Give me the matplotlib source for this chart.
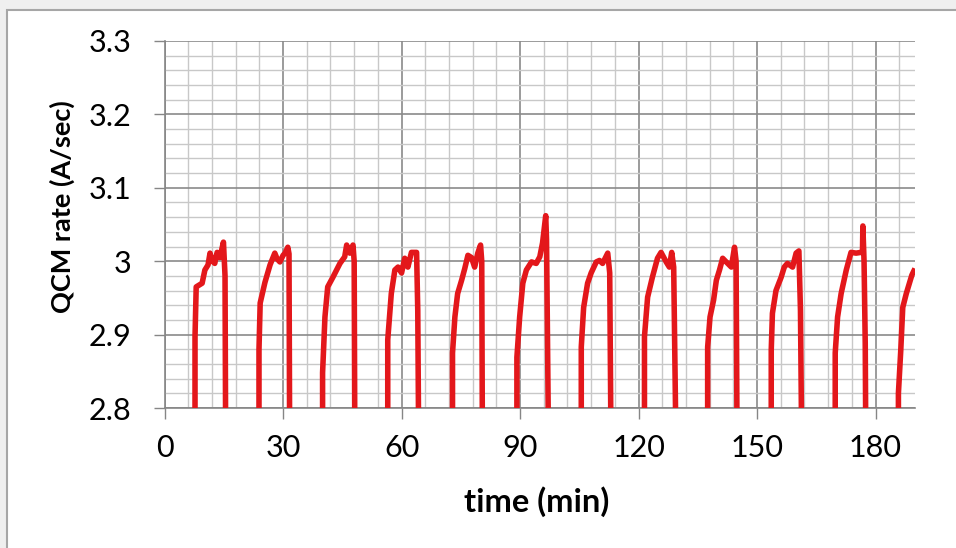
import matplotlib
matplotlib.use('Agg')
import matplotlib.pyplot as plt
from matplotlib.patches import Rectangle
from matplotlib.ticker import MultipleLocator, FixedLocator, FixedFormatter

# ---- data (time in min, QCM rate in A/sec); values below 2.8 are off-scale ----
pulse_times = [
    [7.7, 7.7, 8.0, 9.5, 10.2, 11.0, 11.5, 12.1, 12.7, 13.3, 14.0, 14.9, 15.3, 15.5],
    [23.9, 23.9, 24.2, 25.4, 26.7, 27.9, 28.5, 29.2, 30.0, 30.5, 31.2, 31.5, 31.7],
    [40.0, 40.0, 40.6, 41.3, 42.6, 44.4, 45.6, 46.1, 46.9, 47.7, 48.0, 48.2],
    [56.5, 56.5, 57.4, 58.3, 59.1, 60.0, 60.8, 61.6, 62.5, 63.8, 64.1, 64.4],
    [72.9, 72.9, 73.5, 74.2, 75.2, 76.0, 76.8, 77.7, 78.5, 79.3, 80.0, 80.3, 80.5],
    [89.2, 89.2, 89.9, 90.7, 91.6, 92.9, 94.1, 95.0, 95.7, 96.5, 96.7, 97.0, 97.3],
    [105.5, 105.5, 106.1, 107.1, 108.0, 109.3, 110.1, 110.9, 112.2, 112.7, 113.1],
    [121.5, 121.5, 122.3, 123.5, 124.8, 125.7, 127.0, 127.8, 128.4, 128.9, 129.6],
    [137.5, 137.5, 138.1, 139.0, 139.7, 140.5, 141.3, 142.2, 143.5, 144.3, 144.7, 145.0],
    [153.6, 153.6, 153.9, 154.8, 156.1, 156.9, 157.7, 159.0, 159.9, 160.6, 161.0, 161.4],
    [169.8, 169.8, 170.4, 171.3, 172.6, 173.8, 175.1, 176.3, 176.7, 176.8, 177.1, 177.4, 177.6],
    [185.8, 185.8, 186.4, 186.9, 187.8, 188.6, 189.2, 190.0],
]
pulse_values = [
    [2.70, 2.897, 2.965, 2.970, 2.988, 2.995, 3.011, 3.000, 2.997, 3.012, 3.005, 3.026, 2.980, 2.70],
    [2.70, 2.880, 2.943, 2.971, 2.995, 3.011, 3.003, 2.999, 3.008, 3.011, 3.019, 3.010, 2.70],
    [2.70, 2.848, 2.924, 2.965, 2.978, 2.997, 3.006, 3.022, 3.011, 3.022, 3.000, 2.70],
    [2.70, 2.893, 2.956, 2.988, 2.992, 2.984, 3.004, 2.992, 3.012, 3.012, 2.933, 2.70],
    [2.70, 2.875, 2.924, 2.956, 2.974, 2.990, 3.008, 3.005, 2.992, 3.011, 3.022, 3.000, 2.70],
    [2.70, 2.869, 2.924, 2.970, 2.988, 2.999, 2.997, 3.006, 3.025, 3.062, 3.030, 2.861, 2.70],
    [2.70, 2.883, 2.937, 2.970, 2.984, 2.999, 3.001, 2.997, 3.011, 2.984, 2.70],
    [2.70, 2.897, 2.951, 2.978, 3.004, 3.012, 2.999, 2.992, 3.012, 2.992, 2.70],
    [2.70, 2.883, 2.924, 2.947, 2.974, 2.988, 3.004, 2.999, 2.992, 3.019, 3.000, 2.70],
    [2.70, 2.879, 2.929, 2.960, 2.978, 2.992, 2.997, 2.992, 3.011, 3.014, 2.933, 2.70],
    [2.70, 2.875, 2.924, 2.956, 2.988, 3.012, 3.011, 3.012, 3.012, 3.048, 3.000, 2.888, 2.70],
    [2.70, 2.820, 2.879, 2.937, 2.956, 2.970, 2.981, 2.990],
]
x_ticks = [0, 30, 60, 90, 120, 150, 180]
x_tick_labels = ['0', '30', '60', '90', '120', '150', '180']
y_ticks = [2.8, 2.9, 3.0, 3.1, 3.2, 3.3]
y_tick_labels = ['2.8', '2.9', '3', '3.1', '3.2', '3.3']
x_label = 'time (min)'
y_label = 'QCM rate (A/sec)'

times = [t for p in pulse_times for t in p]
values = [v for p in pulse_values for v in p]

FONT = 'Lato'
plt.rcParams['font.family'] = [FONT, 'DejaVu Sans']

fig = plt.figure(figsize=(9.56, 5.48), dpi=100, facecolor='#efefef')
frame = Rectangle((7/956, -0.01), 1.0, 1 - 10/548 + 0.01, transform=fig.transFigure,
                  facecolor='white', edgecolor='#a6a6a6', lw=1.5, zorder=-10)
fig.add_artist(frame)

ax = fig.add_axes([164.6/956, 1 - 408/548, (915 - 164.6)/956, (408 - 41)/548])
ax.set_zorder(5)
ax.set_facecolor('white')
ax.plot(times, values, color='#e3171b', lw=4.0, solid_joinstyle='round', solid_capstyle='butt', zorder=3)

ax.set_xlim(0, 190)
ax.set_ylim(2.8, 3.3)
ax.xaxis.set_major_locator(FixedLocator(x_ticks))
ax.xaxis.set_major_formatter(FixedFormatter(x_tick_labels))
ax.yaxis.set_major_locator(FixedLocator(y_ticks))
ax.yaxis.set_major_formatter(FixedFormatter(y_tick_labels))
ax.xaxis.set_minor_locator(MultipleLocator(6))
ax.yaxis.set_minor_locator(MultipleLocator(0.02))

ax.set_axisbelow(True)
ax.grid(which='major', color='#8a8a8a', lw=1.2)
ax.grid(which='minor', color='#c8c8c8', lw=1.0)

for s in ['top', 'right']:
    ax.spines[s].set_visible(False)
for s in ['left', 'bottom']:
    ax.spines[s].set_color('#868686')
    ax.spines[s].set_linewidth(1.2)

ax.tick_params(which='major', length=8, width=1.0, color='#868686', labelsize=22, labelcolor='black')
ax.tick_params(axis='y', which='major', pad=16)
ax.tick_params(axis='x', which='major', pad=11)
ax.tick_params(which='minor', length=0)

fig.text(62/956, 1 - 207/548, y_label, rotation=90, ha='center', va='center',
         fontsize=19.5, fontweight='bold', color='black', zorder=6)
fig.text(537/956, 1 - 502/548, x_label, ha='center', va='center',
         fontsize=23.5, fontweight='bold', color='black', zorder=6)

fig.savefig('out.png', dpi=100, facecolor=fig.get_facecolor())
